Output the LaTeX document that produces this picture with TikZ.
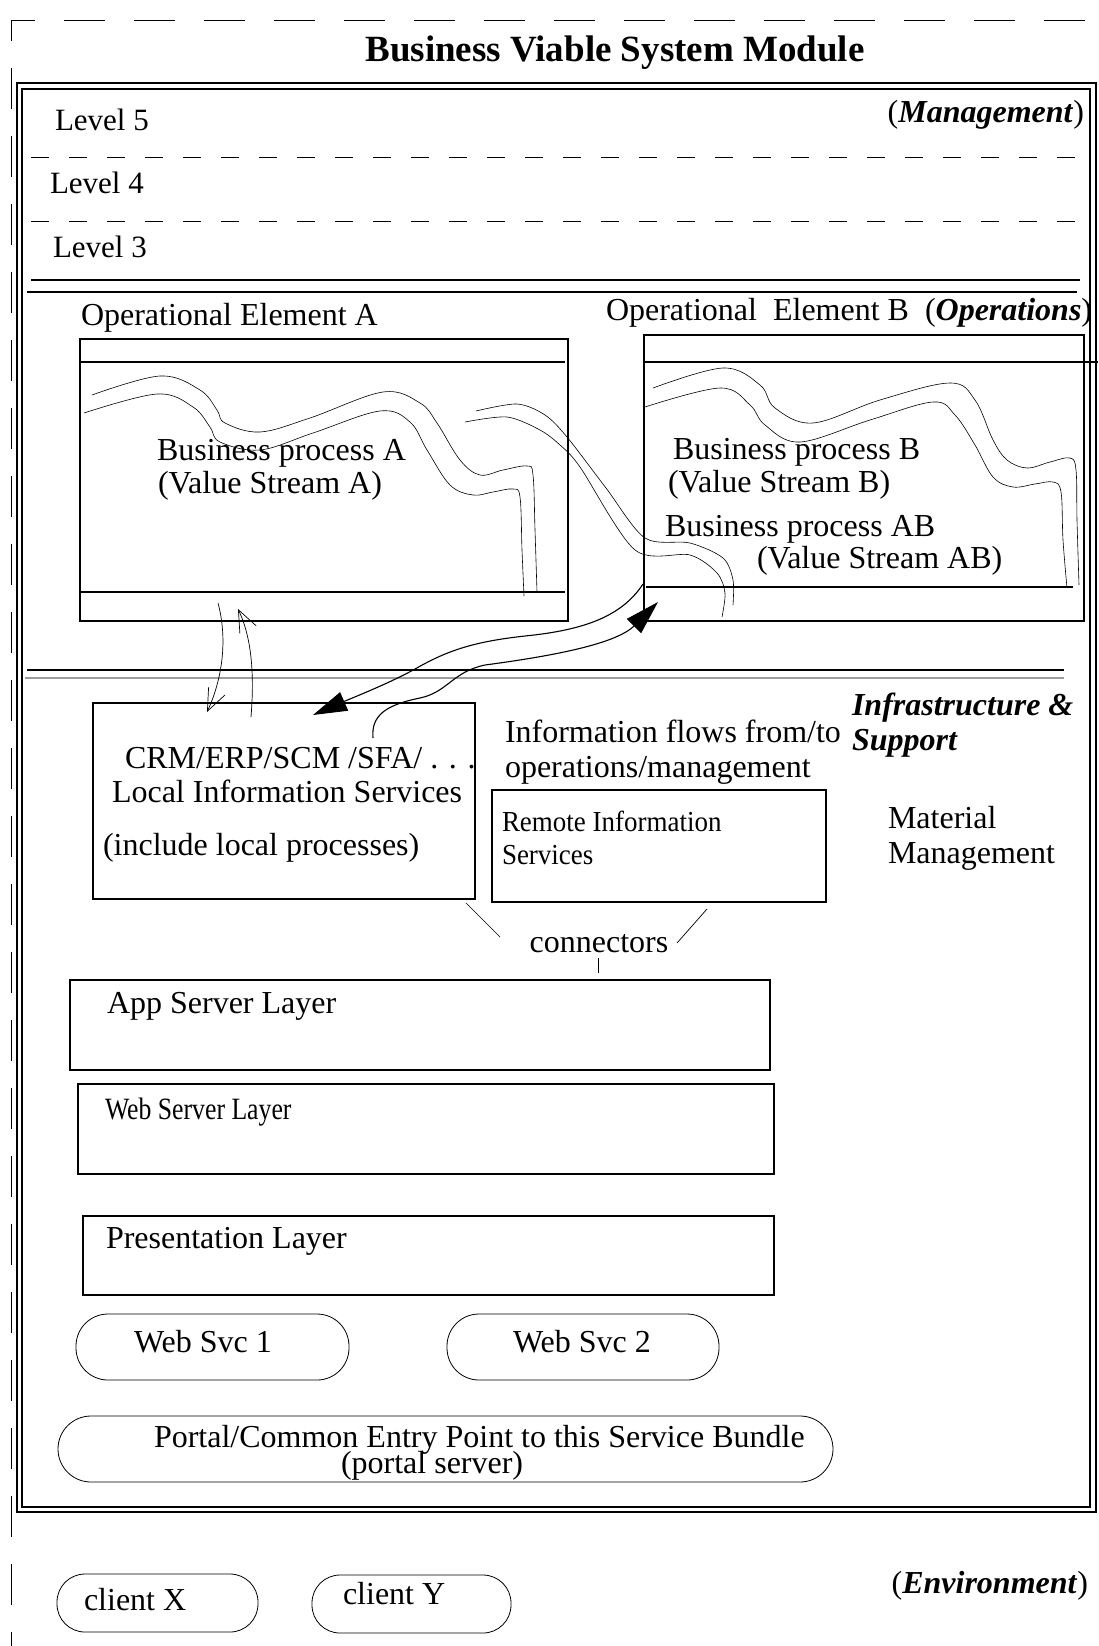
\documentclass[tikz,border=0pt]{standalone}
\usepackage{fontspec}
\setmainfont{Liberation Serif}
\newfontfamily\condfont[FakeStretch=0.83]{Liberation Serif}
\newfontfamily\remfont[FakeStretch=0.93]{Liberation Serif}
\usetikzlibrary{arrows.meta}
\tikzset{
  txt/.style={inner sep=0pt, outer sep=0pt, anchor=base west, font=\fontsize{32}{38}\selectfont},
  box/.style={draw, line width=1.1pt, inner sep=0pt, outer sep=0pt},
  rbox/.style={draw, line width=0.8pt, inner sep=0pt, outer sep=0pt, rounded corners=#1},
  stream/.style={line width=0.6pt},
  thinline/.style={line width=0.7pt},
  arrline/.style={line width=1.1pt},
  frame/.style={line width=0.9pt},
  lvldash/.style={line width=0.9pt, dash pattern=on 18pt off 20pt},
  barb/.style={-{Straight Barb[length=22pt,width=18pt,line width=0.7pt]}},
  bigtip/.style={-{Triangle[length=34pt,width=20pt]}}
}
\begin{document}
\begin{tikzpicture}[x=1pt,y=-1pt]
\useasboundingbox (0,0) rectangle (1098,1646);

% outer dashed frame
\draw[frame, dash pattern=on 41pt off 29pt, dash phase=17pt] (11,20) -- (1098,20);
\draw[frame, dash pattern=on 41pt off 27pt, dash phase=20pt] (11,20) -- (11,1646);

% title
\node[txt, anchor=base, font=\fontsize{37}{42}\selectfont\bfseries] (title) at (615,62) {Business Viable System Module};

% double bordered module
\draw[line width=1.6pt] (17,83) rectangle (1096,1512);
\draw[line width=1.1pt] (22,89) rectangle (1090,1507);

% levels
\node[txt, font=\fontsize{31}{36}\selectfont] (lv5) at (55,130) {Level 5};
\node[txt, font=\fontsize{31}{36}\selectfont] (lv4) at (50,193) {Level 4};
\node[txt, font=\fontsize{31}{36}\selectfont] (lv3) at (53,257) {Level 3};
\node[txt, anchor=base east] (mgmt) at (1084,122) {(\textbf{\textit{Management}})};
\draw[lvldash] (31,157) -- (1082,157);
\draw[lvldash] (31,221) -- (1082,221);
\draw[line width=1.1pt] (31,280) -- (1080,280);
\draw[line width=1.1pt] (27,292) -- (1077,292);

% operational elements
\node[txt] (opA) at (81,325) {Operational Element A};
\node[txt] (opB) at (606,320) {Operational\ \ Element B\ \ (\textbf{\textit{Operations}})};
\node[box, minimum width=488pt, minimum height=282pt] (boxA) at (324,480) {};
\draw[line width=1.1pt] (80,362) -- (565,362);
\draw[line width=1.1pt] (80,592) -- (565,592);
\node[box, minimum width=440pt, minimum height=286pt] (boxB) at (864,478) {};
\draw[line width=1.1pt] (644,362) -- (1098,362);
\draw[line width=1.1pt] (646,587) -- (1073,587);

% value stream A
\draw[stream] plot[smooth, tension=0.6] coordinates {(92,395) (160,376) (200,390) (217,410) (225,423) (260,432) (310,418) (383,392) (420,403) (437,423) (460,460) (480,475) (503,470) (527,466) (533,475) (535,530) (537,592)};
\draw[stream] plot[smooth, tension=0.6] coordinates {(84,413) (157,394) (193,407) (210,427) (220,442) (260,450) (313,433) (380,411) (410,422) (427,450) (450,485) (473,495) (493,492) (513,489) (520,497) (522,550) (524,596)};
% value stream AB
\draw[stream] plot[smooth, tension=0.5] coordinates {(476,411) (517,404) (545,415) (567,437) (606,488) (645,538) (690,543) (723,558) (733,580) (733,605)};
\draw[stream] plot[smooth, tension=0.5] coordinates {(465,422) (507,417) (540,430) (560,445) (580,467) (635,550) (690,555) (717,573) (725,593) (722,617)};
% value stream B
\draw[stream] plot[smooth, tension=0.6] coordinates {(653,388) (723,368) (760,385) (775,408) (813,423) (880,400) (950,383) (975,400) (993,440) (1007,460) (1027,468) (1050,462) (1070,458) (1076,470) (1077,520) (1079,585)};
\draw[stream] plot[smooth, tension=0.6] coordinates {(645,407) (720,388) (750,405) (765,425) (800,442) (870,420) (933,402) (955,415) (975,445) (993,477) (1013,487) (1035,484) (1053,482) (1061,492) (1063,540) (1067,588)};

\node[txt] (bpA) at (157,460) {Business process A};
\node[txt] (vsA) at (158,493) {(Value Stream A)};
\node[txt] (bpB) at (673,459) {Business process B};
\node[txt] (vsB) at (668,492) {(Value Stream B)};
\node[txt] (bpAB) at (665,536) {Business process AB};
\node[txt] (vsAB) at (757,568) {(Value Stream AB)};

% operations / infrastructure separator
\draw[line width=1.1pt] (27,670) -- (1064,670);
\draw[line width=2pt, gray!45!black!50] (25,678) -- (1064,678);

% infrastructure
\node[box, minimum width=382pt, minimum height=196pt] (crm) at (284,801) {};
\node[txt] (crm1) at (125,768) {CRM/ERP/SCM /SFA/ . . .};
\node[txt] (crm2) at (112,802) {Local Information Services};
\node[txt] (crm3) at (103,855) {(include local processes)};
\node[txt] (inf1) at (505,742) {Information flows from/to};
\node[txt] (inf2) at (505,777) {operations/management};
\node[txt] (infra1) at (852,715) {\textbf{\textit{Infrastructure \&}}};
\node[txt] (infra2) at (852,750) {\textbf{\textit{Support}}};
\node[box, minimum width=334pt, minimum height=112pt] (remote) at (659,846) {};
\node[txt, font=\remfont\fontsize{29}{34}\selectfont] (rem1) at (502,831) {Remote Information};
\node[txt, font=\remfont\fontsize{29}{34}\selectfont] (rem2) at (502,864) {Services};
\node[txt] (mat1) at (888,828) {Material};
\node[txt] (mat2) at (888,863) {Management};

% arrows between operations and infrastructure
\coordinate (a1s) at (218,603);
\coordinate (a1e) at (207,712);
\coordinate (a2s) at (251,717);
\coordinate (a2e) at (238,609);
\draw[thinline, barb] (a1s) .. controls (228,640) and (222,680) .. (a1e);
\draw[thinline, barb] (a2s) .. controls (254,680) and (253,640) .. (a2e);
\coordinate (b1s) at (643,584);
\coordinate (b1e) at (313,715);
\coordinate (b2s) at (373,738);
\coordinate (b2e) at (658,602);
\draw[arrline, bigtip] (b1s) .. controls (622,616) and (585,630) .. (525,636) .. controls (470,642) and (445,652) .. (415,669) .. controls (390,683) and (352,698) .. (b1e);
\draw[arrline, bigtip] (b2s) .. controls (371,716) and (385,705) .. (420,698) .. controls (448,692) and (452,672) .. (485,665) .. controls (545,657) and (615,645) .. (b2e);

% connectors
\coordinate (c1a) at (466,903);
\coordinate (c1b) at (500,937);
\coordinate (c2a) at (707,909);
\coordinate (c2b) at (677,943);
\coordinate (c3a) at (598,958);
\coordinate (c3b) at (598,973);
\draw[thinline] (c1a) -- (c1b);
\draw[thinline] (c2a) -- (c2b);
\draw[thinline] (c3a) -- (c3b);
\node[txt, anchor=base] (conn) at (599,952) {connectors};

% layers
\node[box, minimum width=700pt, minimum height=90pt] (app) at (420,1025) {};
\node[txt] (appt) at (107,1013) {App Server Layer};
\node[box, minimum width=696pt, minimum height=90pt] (web) at (426,1129) {};
\node[txt, font=\condfont\fontsize{31}{36}\selectfont] (webt) at (105,1119) {Web Server Layer};
\node[box, minimum width=691pt, minimum height=79pt] (pres) at (428.5,1255.5) {};
\node[txt] (prest) at (106,1248) {Presentation Layer};

% services
\node[rbox=32pt, minimum width=273pt, minimum height=66pt] (ws1) at (212.5,1347) {};
\node[txt] (ws1t) at (134,1352) {Web Svc 1};
\node[rbox=32pt, minimum width=272pt, minimum height=66pt] (ws2) at (583,1347) {};
\node[txt] (ws2t) at (513,1352) {Web Svc 2};
\node[rbox=33pt, minimum width=775pt, minimum height=66pt] (portal) at (445.5,1449) {};
\node[txt] (portalt1) at (154,1447) {Portal/Common Entry Point to this Service Bundle};
\node[txt] (portalt2) at (341,1473) {(portal server)};

% environment
\node[rbox=28pt, minimum width=201pt, minimum height=58pt] (cx) at (157.5,1603) {};
\node[txt] (cxt) at (84,1610) {client X};
\node[rbox=28pt, minimum width=199pt, minimum height=58pt] (cy) at (411.5,1604) {};
\node[txt] (cyt) at (343,1604) {client Y};
\node[txt, anchor=base east] (env) at (1088,1593) {(\textbf{\textit{Environment}})};
\end{tikzpicture}
\end{document}
